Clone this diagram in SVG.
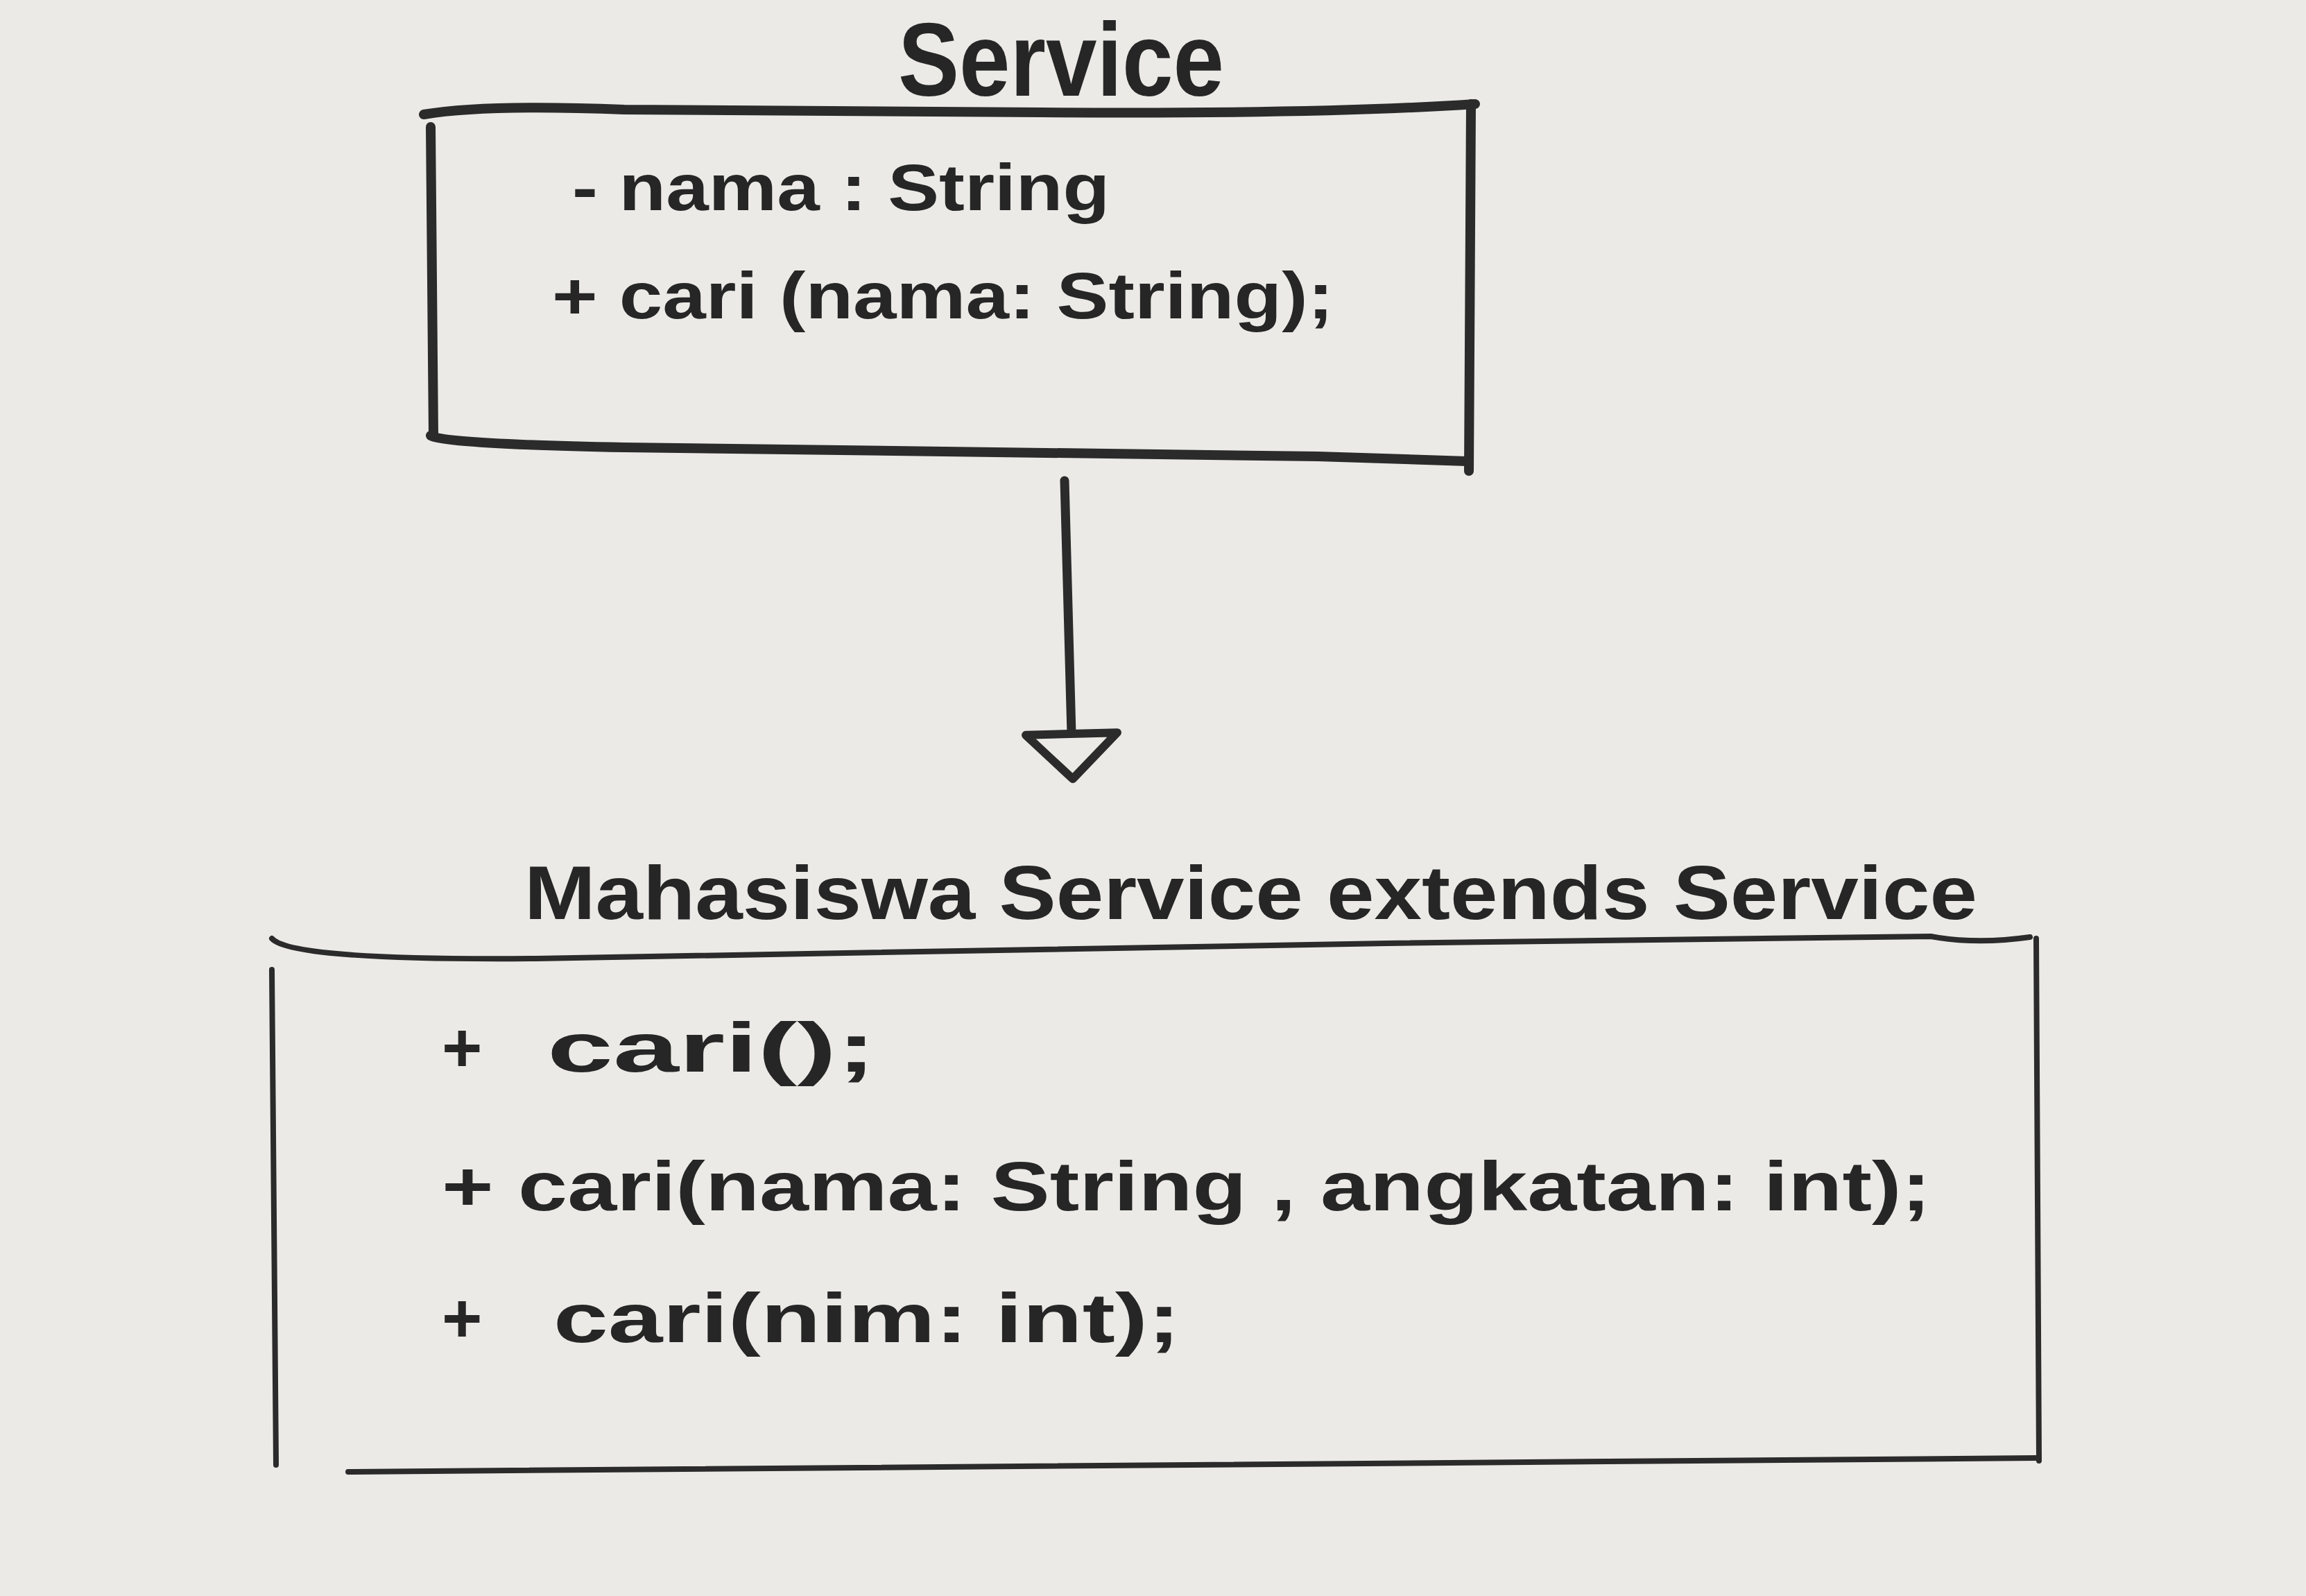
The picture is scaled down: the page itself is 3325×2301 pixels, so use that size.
<svg xmlns="http://www.w3.org/2000/svg" width="3325" height="2301" viewBox="0 0 3325 2301">
  <style>
    .bg { fill: #ebeae6; }
    .box { fill: none; stroke: #2b2b2b; stroke-linecap: round; stroke-linejoin: round; }
    .thick { stroke-width: 14; }
    .thin { stroke-width: 8; }
    .txt { font-family: "Liberation Sans", Arial, sans-serif; fill: #262626; font-weight: bold; }
    .conn { fill: none; stroke: #2b2b2b; stroke-width: 13; stroke-linecap: round; }
  </style>
  <defs>
    <marker id="hollowTri" markerUnits="userSpaceOnUse" markerWidth="160" markerHeight="160" viewBox="-10 -80 90 160" refX="0" refY="0" orient="auto">
      <path d="M0,-66 L65,0 L0,66 Z" fill="#ebeae6" stroke="#2b2b2b" stroke-width="12" stroke-linejoin="round"/>
    </marker>
  </defs>
  <rect class="bg" x="0" y="0" width="3325" height="2301"/>

  <g id="node-service">
    <text class="txt" x="1295" y="138" font-size="150" textLength="470" lengthAdjust="spacingAndGlyphs">Service</text>
    <path class="box thick" d="M611 165 Q700 150 900 158 L1500 162 Q1900 165 2127 150"/>
    <path class="box thick" d="M621 183 L625 628"/>
    <path class="box thick" d="M621 628 Q640 640 900 645 L1900 658 L2115 665"/>
    <path class="box thick" d="M2121 150 L2118 679"/>
    <text class="txt" x="825" y="303" font-size="95" textLength="775" lengthAdjust="spacingAndGlyphs">- nama : String</text>
    <text class="txt" x="796" y="459" font-size="95" textLength="1127" lengthAdjust="spacingAndGlyphs">+ cari (nama: String);</text>
  </g>

  <g id="node-mahasiswa-service">
    <text class="txt" x="756" y="1325" font-size="110" textLength="2095" lengthAdjust="spacingAndGlyphs">Mahasiswa Service extends Service</text>
    <path class="box thin" d="M392 1353 Q420 1385 773 1382 L2000 1360 L2784 1350 Q2850 1362 2927 1351"/>
    <path class="box thin" d="M392 1398 L398 2112"/>
    <path class="box thin" d="M2936 1353 L2940 2106"/>
    <path class="box thin" d="M502 2122 L2936 2102"/>
    <text class="txt" x="637" y="1545" font-size="100">+</text>
    <text class="txt" x="789" y="1545" font-size="100" textLength="474" lengthAdjust="spacingAndGlyphs">cari();</text>
    <text class="txt" x="637" y="1745" font-size="100" textLength="2147" lengthAdjust="spacingAndGlyphs">+ cari(nama: String , angkatan: int);</text>
    <text class="txt" x="637" y="1935" font-size="100">+</text>
    <text class="txt" x="798" y="1935" font-size="100" textLength="904" lengthAdjust="spacingAndGlyphs">cari(nim: int);</text>
  </g>

  <g id="connectors">
    <path class="conn" d="M1535 693 L1545 1058" marker-end="url(#hollowTri)"/>
  </g>
</svg>
